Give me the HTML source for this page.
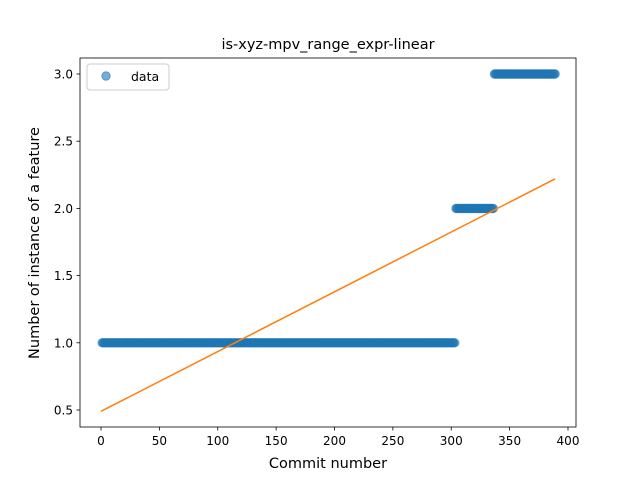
<!DOCTYPE html>
<html><head><meta charset="utf-8"><style>
body{margin:0;background:#fff}
svg{display:block;font-family:"DejaVu Sans","Liberation Sans",sans-serif}
</style></head><body>
<svg id="chart" width="640" height="480">
<rect width="640" height="480" fill="#fff"/>
<text x="328" y="49" text-anchor="middle" font-size="14.5">is-xyz-mpv_range_expr-linear</text>
<g id="points"></g>
<g id="fit"></g>
<rect x="80" y="58" width="496" height="369" fill="none" stroke="#000" stroke-width="0.8"/>
<g id="xt"></g>
<g id="yt"></g>
<text x="328" y="468" text-anchor="middle" font-size="14.5">Commit number</text>
<text transform="translate(39,243) rotate(-90)" text-anchor="middle" font-size="14.5">Number of instance of a feature</text>
<g>
<rect x="87" y="64" width="82" height="26" rx="3" fill="#fff" fill-opacity="0.8" stroke="#ccc"/>
<circle cx="106" cy="76" r="4.2" fill="#1f77b4" fill-opacity="0.6" stroke="#1f77b4" stroke-opacity="0.6"/>
<text x="131" y="81" font-size="12.5">data</text>
</g>
</svg>
<script>
const segStart=[1,304,337];
const segEnd=[303,336,389];
const segValue=[1,2,3];
const fitX=[0,389];
const fitY=[0.49,2.22];
const xTicks=[0,50,100,150,200,250,300,350,400];
const yTicks=[0.5,1.0,1.5,2.0,2.5,3.0];
const NS="http://www.w3.org/2000/svg";
const sx=v=>101+v*467/400;
const sy=v=>410-(v-0.5)*(336/2.5);
function mk(t,a,p){const e=document.createElementNS(NS,t);for(const k in a)e.setAttribute(k,a[k]);p.appendChild(e);return e;}
const pts=document.getElementById('points');
for(let s=0;s<segStart.length;s++){for(let x=segStart[s];x<=segEnd[s];x++){
const c=mk('circle',{cx:sx(x),cy:sy(segValue[s]),r:4.2,fill:'#1f77b4','fill-opacity':0.6,stroke:'#1f77b4','stroke-opacity':0.6},pts);

}}
const l=mk('line',{x1:sx(fitX[0]),y1:sy(fitY[0]),x2:sx(fitX[1]),y2:sy(fitY[1]),stroke:'#ff7f0e','stroke-width':1.5},document.getElementById('fit'));


const xt=document.getElementById('xt');
xTicks.forEach(v=>{mk('line',{x1:sx(v),x2:sx(v),y1:427,y2:430.5,stroke:'#000','stroke-width':0.8},xt);
const t=mk('text',{x:sx(v),y:445,'text-anchor':'middle','font-size':12},xt);t.textContent=v;

});
const yt=document.getElementById('yt');
yTicks.forEach(v=>{mk('line',{x1:76.5,x2:80,y1:sy(v),y2:sy(v),stroke:'#000','stroke-width':0.8},yt);
const t=mk('text',{x:73,y:sy(v)+4.5,'text-anchor':'end','font-size':12},yt);t.textContent=v.toFixed(1);

});
</script>
</body></html>
